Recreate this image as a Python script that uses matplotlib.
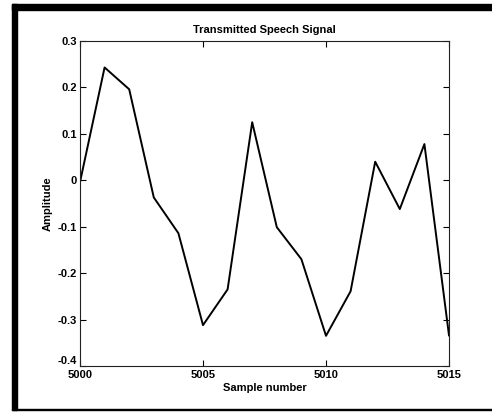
import matplotlib
matplotlib.use("Agg")
import matplotlib.pyplot as plt
from matplotlib.patches import Rectangle
from matplotlib import font_manager

samples = [5000, 5001, 5002, 5003, 5004, 5005, 5006, 5007, 5008, 5009, 5010, 5011, 5012, 5013, 5014, 5015]
amplitude = [-0.004, 0.243, 0.196, -0.037, -0.114, -0.312, -0.235, 0.125, -0.101, -0.170, -0.335, -0.239, 0.040, -0.062, 0.078, -0.334]
xticks = [5000, 5005, 5010, 5015]
yticks = [-0.4, -0.3, -0.2, -0.1, 0, 0.1, 0.2, 0.3]
ytick_labels = ["-0.4", "-0.3", "-0.2", "-0.1", "0", "0.1", "0.2", "0.3"]

names = {f.name for f in font_manager.fontManager.ttflist}
fam = "Liberation Sans Narrow" if "Liberation Sans Narrow" in names else "Liberation Sans"
plt.rcParams['font.family'] = [fam, 'DejaVu Sans']

W, H = 492, 412
fig = plt.figure(figsize=(W / 100, H / 100), dpi=100)
fig.patch.set_facecolor("white")

# frame bands
fig.patches.append(Rectangle((12 / W, 1 - 10 / H), (W - 12) / W, 6 / H, transform=fig.transFigure, color="black", zorder=0))
fig.patches.append(Rectangle((12 / W, 2 / H), 5 / W, (H - 6) / H, transform=fig.transFigure, color="black", zorder=0))
fig.patches.append(Rectangle((12 / W, 2 / H), (W - 12) / W, 1.5 / H, transform=fig.transFigure, color="black", zorder=0))

ax = fig.add_axes([80 / W, 1 - 366 / H, (449 - 80) / W, (366 - 41) / H])
ax.plot(samples, amplitude, color="black", lw=1.4)
ax.set_xlim(5000, 5015)
ax.set_ylim(-0.4, 0.3)
ax.set_xticks(xticks)
ax.set_yticks(yticks)
ax.set_yticklabels(ytick_labels)
ax.tick_params(direction="in", top=True, right=True, length=4, width=0.8, labelsize=8, pad=2)
ax.tick_params(axis="x", pad=3)
for lab in ax.get_xticklabels() + ax.get_yticklabels():
    lab.set_fontweight("bold")
ax.get_yticklabels()[0].set_va("bottom")
for s in ax.spines.values():
    s.set_linewidth(0.8)
    s.set_color("#222222")
ax.set_title("Transmitted Speech Signal", fontsize=8, fontweight="bold", pad=6)
ax.set_xlabel("Sample number", fontsize=8, fontweight="bold", labelpad=2)
ax.set_ylabel("Amplitude", fontsize=8, fontweight="bold", labelpad=4)

fig.savefig("out.png", dpi=100)
